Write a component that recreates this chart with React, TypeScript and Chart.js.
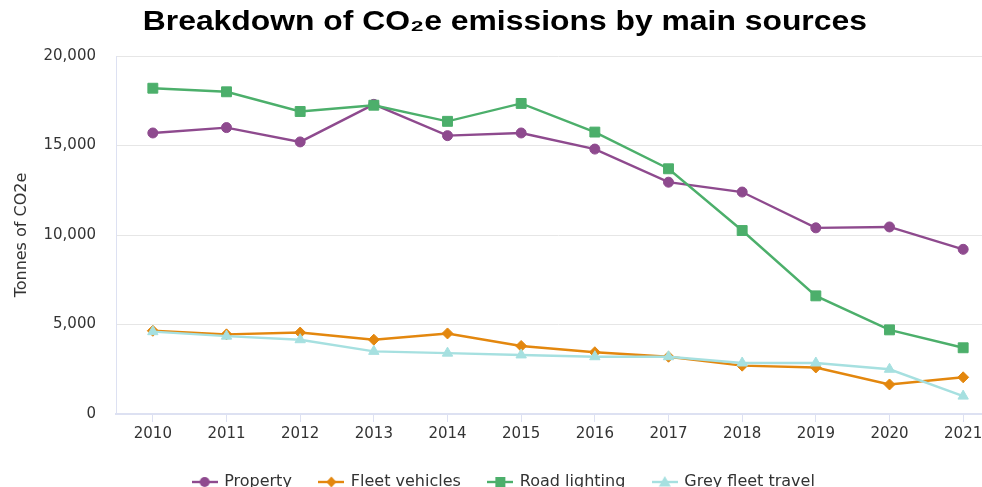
import React, { useEffect, useRef } from 'react';
import { Chart, registerables } from 'chart.js';

Chart.register(...registerables);

const titleText = 'Breakdown of CO₂e emissions by main sources';
const yAxisTitle = 'Tonnes of CO2e';
const years = ['2010', '2011', '2012', '2013', '2014', '2015', '2016', '2017', '2018', '2019', '2020', '2021'];
const property = [15700, 16000, 15200, 17300, 15550, 15700, 14800, 12950, 12400, 10400, 10450, 9200];
const fleetVehicles = [4650, 4450, 4550, 4150, 4500, 3800, 3450, 3200, 2700, 2600, 1650, 2050];
const roadLighting = [18200, 18000, 16900, 17250, 16350, 17350, 15750, 13700, 10250, 6600, 4700, 3700];
const greyFleetTravel = [4600, 4350, 4150, 3500, 3400, 3300, 3200, 3200, 2850, 2850, 2500, 1000];
const yMin = 0;
const yMax = 20000;
const yStep = 5000;

const PURPLE = '#8e4a8e';
const ORANGE = '#e3870e';
const GREEN = '#4caf6b';
const CYAN = '#a6e0e0';
const AXIS = '#dde1f2';
const GRID = '#e6e6e6';
const TEXT = '#333333';
const FONT = "'DejaVu Sans', Verdana, sans-serif";

function legendIcon(color: string, shape: string): HTMLCanvasElement {
  const c = document.createElement('canvas');
  c.width = 26;
  c.height = 14;
  const ctx = c.getContext('2d')!;
  const cx = 13;
  const cy = 7;
  ctx.strokeStyle = color;
  ctx.lineWidth = 2.4;
  ctx.beginPath();
  ctx.moveTo(0, cy);
  ctx.lineTo(26, cy);
  ctx.stroke();
  ctx.fillStyle = color;
  ctx.beginPath();
  if (shape === 'circle') {
    ctx.arc(cx, cy, 5, 0, Math.PI * 2);
  } else if (shape === 'diamond') {
    ctx.moveTo(cx, cy - 5.5);
    ctx.lineTo(cx + 5, cy);
    ctx.lineTo(cx, cy + 5.5);
    ctx.lineTo(cx - 5, cy);
    ctx.closePath();
  } else if (shape === 'square') {
    ctx.rect(cx - 5, cy - 5, 10, 10);
  } else {
    ctx.moveTo(cx, cy - 6);
    ctx.lineTo(cx + 6, cy + 4.5);
    ctx.lineTo(cx - 6, cy + 4.5);
    ctx.closePath();
  }
  ctx.fill();
  return c;
}

export default function App() {
  const ref = useRef<HTMLCanvasElement>(null);

  useEffect(() => {
    const icons = [
      legendIcon(PURPLE, 'circle'),
      legendIcon(ORANGE, 'diamond'),
      legendIcon(GREEN, 'square'),
      legendIcon(CYAN, 'triangle'),
    ];
    const mk = (label: string, data: number[], color: string, style: any, radius: number, order: number) => ({
      label,
      data,
      borderColor: color,
      backgroundColor: color,
      pointBackgroundColor: color,
      pointBorderColor: color,
      pointBorderWidth: 1,
      pointStyle: style,
      pointRadius: radius,
      borderWidth: 2.4,
      tension: 0,
      order,
    });
    const chart = new Chart(ref.current!, {
      type: 'line',
      data: {
        labels: years,
        datasets: [
          mk('Property', property, PURPLE, 'circle', 5, 4),
          mk('Fleet vehicles', fleetVehicles, ORANGE, 'rectRot', 5.5, 3),
          mk('Road lighting', roadLighting, GREEN, 'rect', 7, 2),
          mk('Grey fleet travel', greyFleetTravel, CYAN, 'triangle', 6, 1),
        ],
      },
      options: {
        responsive: false,
        animation: false,
        layout: { padding: { top: 48, right: 8, left: 0, bottom: 0 } },
        plugins: {
          title: { display: false },
          tooltip: { enabled: false },
          legend: {
            position: 'bottom',
            labels: {
              usePointStyle: true,
              pointStyleWidth: 23,
              padding: 28,
              color: TEXT,
              font: { family: FONT, size: 16 },
              generateLabels: (ch: any) =>
                ch.data.datasets.map((ds: any, i: number) => ({
                  text: ds.label,
                  fillStyle: ds.borderColor,
                  strokeStyle: ds.borderColor,
                  lineWidth: 0,
                  pointStyle: icons[i],
                  hidden: false,
                  datasetIndex: i,
                  fontColor: TEXT,
                })),
            },
          },
        },
        scales: {
          x: {
            type: 'category',
            offset: true,
            grid: {
              display: true,
              drawOnChartArea: false,
              drawTicks: true,
              tickLength: 8,
              color: AXIS,
              offset: false,
            },
            border: { display: true, color: AXIS, width: 2 },
            ticks: {
              color: TEXT,
              font: { family: FONT, size: 15 },
              padding: 3,
              maxRotation: 0,
              autoSkip: false,
            },
          },
          y: {
            min: yMin,
            max: yMax,
            afterFit: (s: any) => {
              s.width = 108;
            },
            grid: { color: GRID, drawTicks: false, lineWidth: 1 },
            border: { display: true, color: AXIS, width: 1 },
            ticks: {
              stepSize: yStep,
              padding: 20,
              color: TEXT,
              font: { family: FONT, size: 15 },
              callback: (v: any) => Number(v).toLocaleString('en-US'),
            },
            title: {
              display: true,
              text: yAxisTitle,
              color: TEXT,
              font: { family: FONT, size: 16 },
              padding: { top: 4, bottom: 12 },
            },
          },
        },
      },
    } as any);
    return () => chart.destroy();
  }, []);

  return (
    <div
      style={{
        position: 'fixed',
        left: 0,
        top: 0,
        width: 982,
        height: 487,
        overflow: 'hidden',
        background: '#ffffff',
      }}
    >
      <canvas
        ref={ref}
        width={1000}
        height={492}
        style={{ position: 'absolute', left: 8, top: 8, width: 1000, height: 492 }}
      />
      <div
        style={{
          position: 'absolute',
          left: 8,
          top: 8,
          width: 994,
          textAlign: 'center',
          lineHeight: '27px',
          fontFamily: "'Liberation Sans', Arial, sans-serif",
          fontWeight: 'bold',
          fontSize: 27,
          color: '#000000',
          whiteSpace: 'nowrap',
        }}
      >
        <span style={{ display: 'inline-block', transform: 'scaleX(1.18)', transformOrigin: 'center' }}>
          {titleText}
        </span>
      </div>
    </div>
  );
}
